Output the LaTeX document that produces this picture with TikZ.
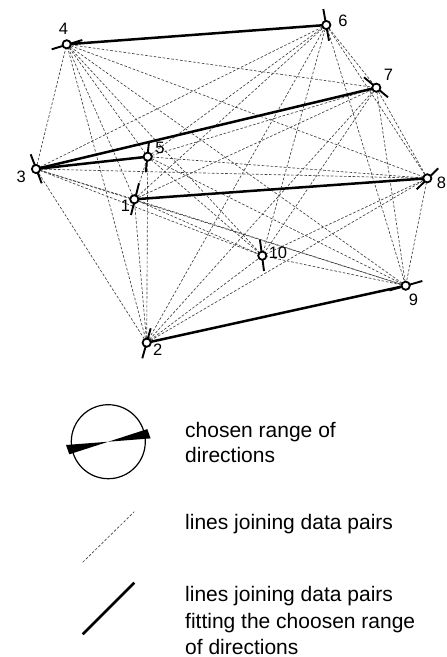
\documentclass[tikz,border=0pt]{standalone}
\usepackage{fontspec}
\setmainfont{Liberation Sans}
\begin{document}
\begin{tikzpicture}[x=1pt,y=-1pt,
  pair/.style={draw=black!75,line width=0.65pt,dash pattern=on 2.6pt off 1.8pt},
  fit/.style={draw=black,line width=2.5pt},
  tickmark/.style={draw=black,line width=1.9pt},
  pt/.style={circle,draw=black,fill=white,line width=1.8pt,inner sep=0pt,minimum size=8.2pt},
  num/.style={inner sep=0pt,font=\fontsize{16.5}{19}\selectfont},
  legtext/.style={inner sep=0pt,anchor=base west,font=\fontsize{21}{25}\selectfont}]
\clip (0,0) rectangle (447,657);
\fill[white] (0,0) rectangle (447,657);
% data points
\coordinate (p1) at (134.3,199.3);
\coordinate (p2) at (146.7,342.7);
\coordinate (p3) at (36,169);
\coordinate (p4) at (66.7,44.3);
\coordinate (p5) at (147.7,156.7);
\coordinate (p6) at (326.3,25);
\coordinate (p7) at (376.3,87.7);
\coordinate (p8) at (427.3,178.3);
\coordinate (p9) at (405.7,285.7);
\coordinate (p10) at (262.3,255.7);
% all pairs
\foreach \i in {1,...,9}{
  \pgfmathtruncatemacro\k{\i+1}
  \foreach \j in {\k,...,10}{\draw[pair] (p\i) -- (p\j);}
}
% pairs fitting range
\draw[fit] (p4) -- (p6);
\draw[fit] (p3) -- (p7);
\draw[fit] (p3) -- (p5);
\draw[fit] (p1) -- (p8);
\draw[fit] (p2) -- (p9);
% direction ticks
\draw[tickmark] ([shift={(-15,5)}]p4) -- ([shift={(15.6,-4.3)}]p4);
\draw[tickmark] ([shift={(-3,-16)}]p6) -- ([shift={(2.7,15.7)}]p6);
\draw[tickmark] ([shift={(-12.3,-10.4)}]p7) -- ([shift={(11.7,9.6)}]p7);
\draw[tickmark] ([shift={(-10.6,11)}]p8) -- ([shift={(11,-10)}]p8);
\draw[tickmark] ([shift={(-5.3,-14.7)}]p3) -- ([shift={(5.7,14.3)}]p3);
\draw[tickmark] ([shift={(1.3,-15)}]p5) -- ([shift={(-2,15.6)}]p5);
\draw[tickmark] ([shift={(4.7,-16)}]p1) -- ([shift={(-3.3,15.7)}]p1);
\draw[tickmark] ([shift={(4,-14.4)}]p2) -- ([shift={(-4.4,15.6)}]p2);
\draw[tickmark] ([shift={(-2.3,-15.7)}]p10) -- ([shift={(1.7,15.3)}]p10);
\draw[tickmark] ([shift={(-16.2,4.7)}]p9) -- ([shift={(16.6,-4.7)}]p9);
% point markers
\foreach \i in {1,...,10}{\node[pt] (m\i) at (p\i) {};}
% labels
\node[num] (l4) at (63.5,29) {4};
\node[num] (l6) at (343,21) {6};
\node[num] (l7) at (388.5,74.7) {7};
\node[num] (l5) at (160,148) {5};
\node[num] (l3) at (21.3,176.7) {3};
\node[num] (l1) at (125.5,206) {1};
\node[num] (l2) at (157.8,349.7) {2};
\node[num] (l10) at (278,253.3) {10};
\node[num] (l9) at (413.5,299.5) {9};
\node[num] (l8) at (441.5,183) {8};
% legend: chosen range
\node[circle,draw=black,line width=1.2pt,minimum size=74pt,inner sep=0pt] (legc) at (108.3,441.7) {};
\fill[black] (legc.center) -- ++(-42.3,3.3) -- ++(3.3,9.3) -- cycle;
\fill[black] (legc.center) -- ++(42.3,-3.3) -- ++(-3.3,-9.3) -- cycle;
\node[legtext] (t1) at (185,437) {chosen range of};
\node[legtext] (t2) at (185,462) {directions};
% legend: dashed line
\coordinate (la) at (82.7,562.3);
\coordinate (lb) at (134.3,511.7);
\draw[pair] (la) -- (lb);
\node[legtext] (t3) at (185,529) {lines joining data pairs};
% legend: thick line
\coordinate (lc) at (82.7,634.3);
\coordinate (ld) at (134.3,582.7);
\draw[fit] (lc) -- (ld);
\node[legtext] (t4) at (185,601.5) {lines joining data pairs};
\node[legtext] (t5) at (185,628) {fitting the choosen range};
\node[legtext] (t6) at (185,654) {of directions};
\end{tikzpicture}
\end{document}
